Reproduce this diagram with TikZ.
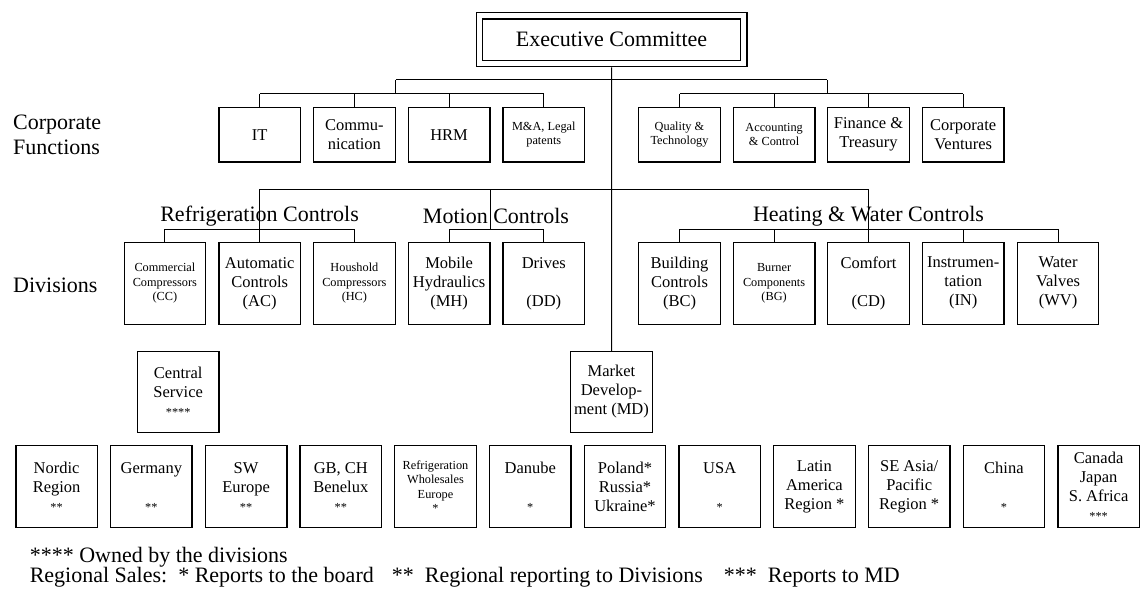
\documentclass[tikz,border=0pt]{standalone}
\usepackage{fontspec}
\setmainfont{Liberation Serif}
\newcommand\txthuge{\fontsize{22}{25}\selectfont}
\newcommand\txtbig{\fontsize{16.5}{19}\selectfont}
\newcommand\txtsmall{\fontsize{12.3}{14.5}\selectfont}
\begin{document}
\begin{tikzpicture}[x=1pt,y=-1pt,
  box/.style={draw,line width=1.3pt,minimum width=81.5pt,inner sep=0pt,align=center,font=\txtbig},
  cfbox/.style={box,minimum height=54.7pt},
  divbox/.style={box,minimum height=82pt},
  midbox/.style={box,minimum height=80.6pt},
  regbox/.style={box,minimum height=82pt},
  sm/.style={font=\txtsmall},
  label/.style={font=\txthuge,inner sep=0pt},
  conn/.style={line width=1pt}]
\useasboundingbox (0,0) rectangle (1141,594);

% Executive committee
\node[draw,double,double distance=5.3pt,line width=1.2pt,outer sep=3.85pt,
  minimum width=264.2pt,minimum height=47.9pt,inner sep=0pt,font=\txthuge]
  (exec) at (611.6,39.7) {Executive Committee};

% Corporate functions
\node[label,anchor=west,align=left] (lcf) at (13,134.7) {Corporate\\Functions};
\node[cfbox] (it)   at (259.7,134.7) {IT};
\node[cfbox] (comm) at (354.4,134.7) {Commu-\\nication};
\node[cfbox] (hrm)  at (449.1,134.7) {HRM};
\node[cfbox,sm] (ma) at (543.8,134.7) {M\&A, Legal\\patents};
\node[cfbox,sm] (qt) at (679.5,134.7) {Quality \&\\Technology};
\node[cfbox,sm] (acc) at (774.1,134.7) {Accounting\\\& Control};
\node[cfbox] (fin)  at (868.5,134.7) {Finance \&\\Treasury};
\node[cfbox] (cv)   at (963.2,134.7) {Corporate\\Ventures};

% Divisions
\node[label,anchor=west] (ldiv) at (13,285) {Divisions};
\node[label] (grc) at (259.6,216) {Refrigeration Controls};
\node[label] (gmc) at (496,216) {Motion Controls};
\node[label] (ghw) at (868.5,216) {Heating \& Water Controls};

\node[divbox,sm] (cc) at (164.9,283.3) {Commercial\\Compressors\\(CC)};
\node[divbox] (ac) at (259.7,283.3) {Automatic\\Controls\\(AC)};
\node[divbox,sm] (hc) at (354.4,283.3) {Houshold\\Compressors\\(HC)};
\node[divbox] (mh) at (449.1,283.3) {Mobile\\Hydraulics\\(MH)};
\node[divbox] (dd) at (543.8,283.3) {Drives\\\mbox{}\\(DD)};
\node[divbox] (bc) at (679.5,283.3) {Building\\Controls\\(BC)};
\node[divbox,sm] (bg) at (774.1,283.3) {Burner\\Components\\(BG)};
\node[divbox] (cd) at (868.5,283.3) {Comfort\\\mbox{}\\(CD)};
\node[divbox] (inst) at (963.2,283.3) {Instrumen-\\tation\\(IN)};
\node[divbox] (wv) at (1058,283.3) {Water\\Valves\\(WV)};

% Central service and market development
\node[midbox] (cs) at (178.2,392) {Central\\Service\\{\txtsmall ****}};
\node[midbox] (md) at (611.5,392) {Market\\Develop-\\ment (MD)};

% Regional sales
\node[regbox] (r1)  at (56.6,486.7)   {Nordic\\Region\\{\txtsmall **}};
\node[regbox] (r2)  at (151.3,486.7)  {Germany\\\mbox{}\\{\txtsmall **}};
\node[regbox] (r3)  at (246.1,486.7)  {SW\\Europe\\{\txtsmall **}};
\node[regbox] (r4)  at (340.8,486.7)  {GB, CH\\Benelux\\{\txtsmall **}};
\node[regbox,sm] (r5) at (435.5,486.7) {Refrigeration\\Wholesales\\Europe\\*};
\node[regbox] (r6)  at (530.3,486.7)  {Danube\\\mbox{}\\{\txtsmall *}};
\node[regbox] (r7)  at (625.0,486.7)  {Poland*\\Russia*\\Ukraine*};
\node[regbox] (r8)  at (719.7,486.7)  {USA\\\mbox{}\\{\txtsmall *}};
\node[regbox] (r9)  at (814.4,486.7)  {Latin\\America\\Region *};
\node[regbox] (r10) at (909.2,486.7)  {SE Asia/\\Pacific\\Region *};
\node[regbox] (r11) at (1003.9,486.7) {China\\\mbox{}\\{\txtsmall *}};
\node[regbox] (r12) at (1098.6,486.7) {Canada\\Japan\\S. Africa\\{\txtsmall ***}};

% Footnotes
\node[label,anchor=base west] (fn1) at (29.6,562) {**** Owned by the divisions};
\node[label,anchor=base west] (fn2) at (29.6,582) {Regional Sales:\hspace{11pt}* Reports to the board\hspace{18pt}**\hspace{11pt}Regional reporting to Divisions\hspace{21pt}***\hspace{11pt}Reports to MD};

% Connector levels
\coordinate (yTop) at (0,80);
\coordinate (yCF) at (0,94);
\coordinate (yDiv) at (0,189);
\coordinate (yBr) at (0,229.3);

% trunk
\draw[conn] (exec.south) -- (md.north);

% corporate functions
\draw[conn] (comm.east |- yTop) -- (fin.west |- yTop);
\draw[conn] (comm.east |- yTop) -- (comm.east |- yCF);
\draw[conn] (fin.west |- yTop) -- (fin.west |- yCF);
\draw[conn] (it.north |- yCF) -- (ma.north |- yCF);
\draw[conn] (qt.north |- yCF) -- (cv.north |- yCF);
\foreach \n in {it,comm,hrm,ma,qt,acc,fin,cv}
  \draw[conn] (\n.north) -- (\n.north |- yCF);

% divisions
\draw[conn] (ac.north |- yDiv) -- (cd.north |- yDiv);
\draw[conn] (ac.north |- yDiv) -- (ac.north);
\draw[conn] (cd.north |- yDiv) -- (cd.north);
\draw[conn] (mh.east |- yDiv) -- (mh.east |- yBr);
\draw[conn] (cc.north |- yBr) -- (hc.north |- yBr);
\draw[conn] (mh.north |- yBr) -- (dd.north |- yBr);
\draw[conn] (bc.north |- yBr) -- (wv.north |- yBr);
\foreach \n in {cc,hc,mh,dd,bc,bg,inst,wv}
  \draw[conn] (\n.north) -- (\n.north |- yBr);
\end{tikzpicture}
\end{document}
